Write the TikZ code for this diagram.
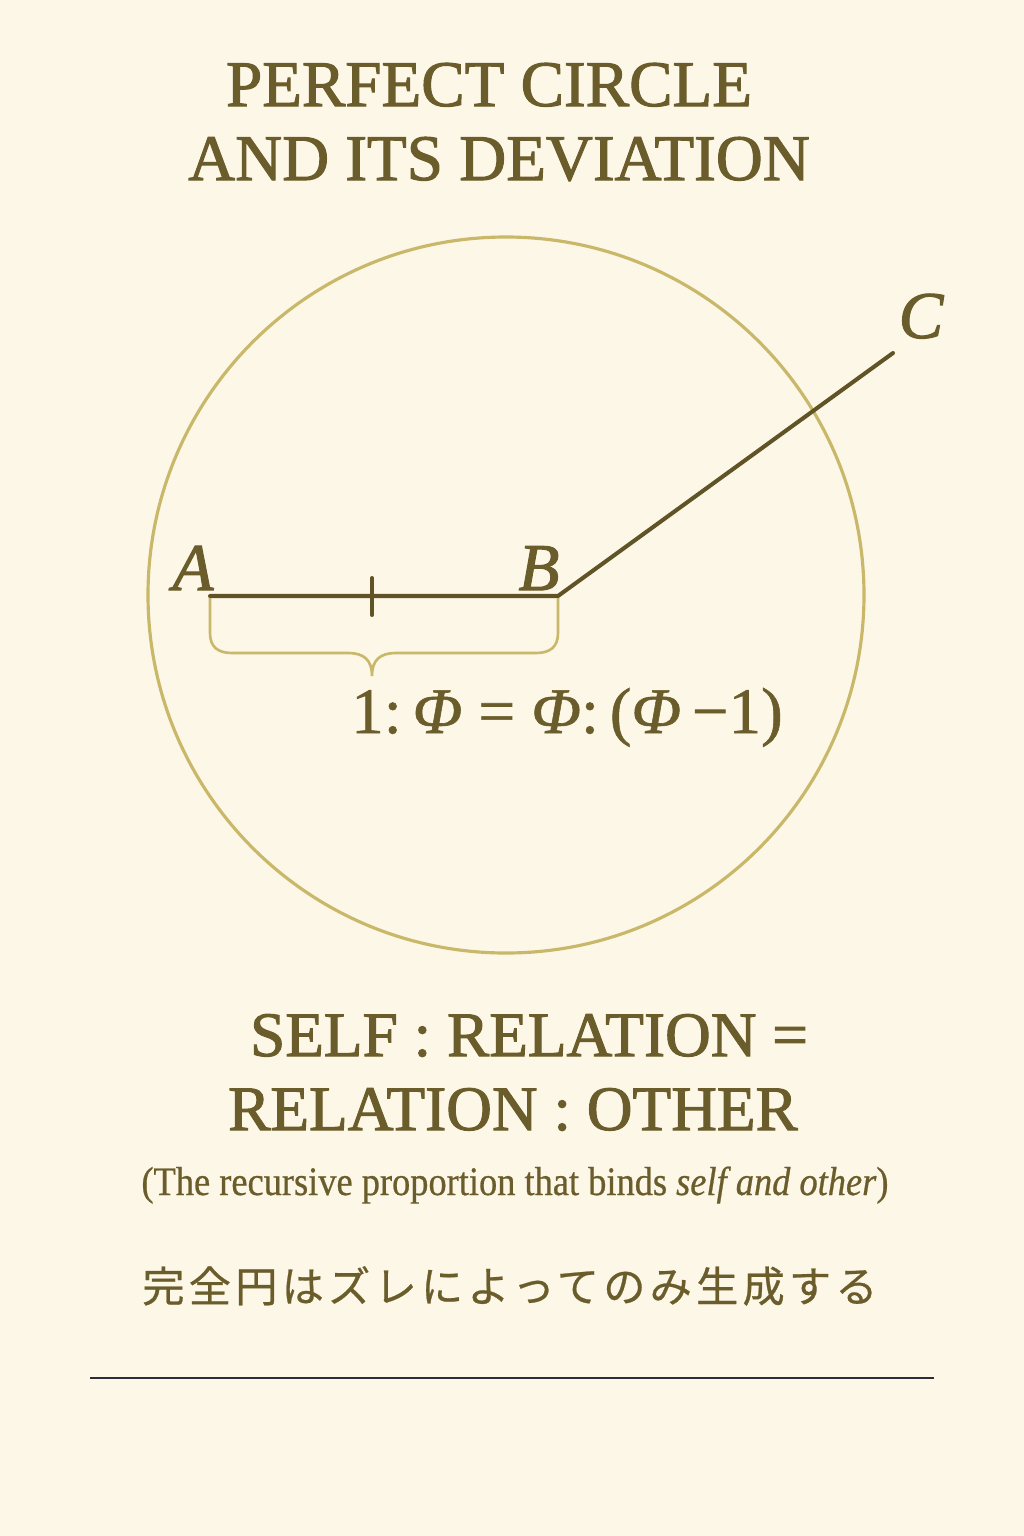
\documentclass[tikz,border=0pt]{standalone}
\usepackage{fontspec}
\setmainfont{Liberation Serif}
\newfontfamily\heavyserif[FakeBold=1.6]{Liberation Serif}
\newfontfamily\midserif[FakeBold=0.9]{Liberation Serif}
\newfontfamily\condserif[FakeStretch=0.9,FakeBold=0.6]{Liberation Serif}
\newfontfamily\jpfont[LetterSpace=10,FakeBold=0.6]{Noto Sans CJK JP}
\usepackage{tikz}
\definecolor{paper}{HTML}{FDF7E7}
\definecolor{olive}{HTML}{6B5D2B}
\definecolor{gold}{HTML}{C9B869}
\definecolor{ink}{HTML}{2B2B3B}
\tikzset{
  rim/.style={draw=gold,line width=0.9pt},
  seg/.style={draw=olive!90!black,line width=1.15pt,line cap=round},
  brc/.style={draw=gold,line width=0.75pt},
  ttl/.style={text=olive,anchor=base,font=\fontsize{18.5}{22}\selectfont\heavyserif},
  ptlab/.style={text=olive,anchor=base,font=\fontsize{19}{22}\selectfont\heavyserif\itshape},
  txt/.style={text=olive,anchor=base}
}

\begin{document}
\begin{tikzpicture}[x=0.01cm,y=-0.01cm]
\useasboundingbox (0,0) rectangle (1024,1536);
\fill[paper] (0,0) rectangle (1024,1536);
\node[ttl] (t1) at (489,106) {PERFECT CIRCLE};
\node[ttl] (t2) at (499,180) {AND ITS DEVIATION};
\draw[rim] (506,595) circle (358);
\coordinate (A) at (210,596); \coordinate (B) at (558,596); \coordinate (C) at (893,353);
\coordinate (M) at (372,596);
\draw[seg] (A) -- (B) -- (C);
\draw[seg] ([yshift=0.18cm]M) -- ([yshift=-0.19cm]M);
\node[ptlab] (la) at (193,590) {A};
\node[ptlab] (lb) at (539,590) {B};
\node[ptlab] (lc) at (921,338) {C};
\draw[brc] (210,598) -- (210,633) .. controls (210,647) and (218,653) .. (232,653)
  -- (348,653) .. controls (364,653) and (372,660) .. (372,676)
  .. controls (372,660) and (380,653) .. (396,653) -- (536,653)
  .. controls (550,653) and (558,647) .. (558,633) -- (558,598);
\node[txt,font=\fontsize{18.5}{22}\selectfont\midserif] (eq) at (567,733) {1:\,\textit{Φ} = \textit{Φ}:\,(\textit{Φ}\,−1)};
\node[ttl,font=\fontsize{18}{22}\selectfont\heavyserif] (s1) at (529,1056) {SELF : RELATION =};
\node[ttl,font=\fontsize{18}{22}\selectfont\heavyserif] (s2) at (513,1130) {RELATION : OTHER};
\node[txt,font=\fontsize{11.5}{14}\selectfont\condserif] (note) at (515,1195) {(The recursive proportion that binds \textit{self and other})};
\node[txt,font=\fontsize{12}{14}\selectfont\jpfont] (jp) at (510,1302) {完全円はズレによってのみ生成する};
\coordinate (L1) at (90,1378); \coordinate (L2) at (934,1378);
\draw[ink,line width=0.6pt] (L1) -- (L2);
\end{tikzpicture}
\end{document}
